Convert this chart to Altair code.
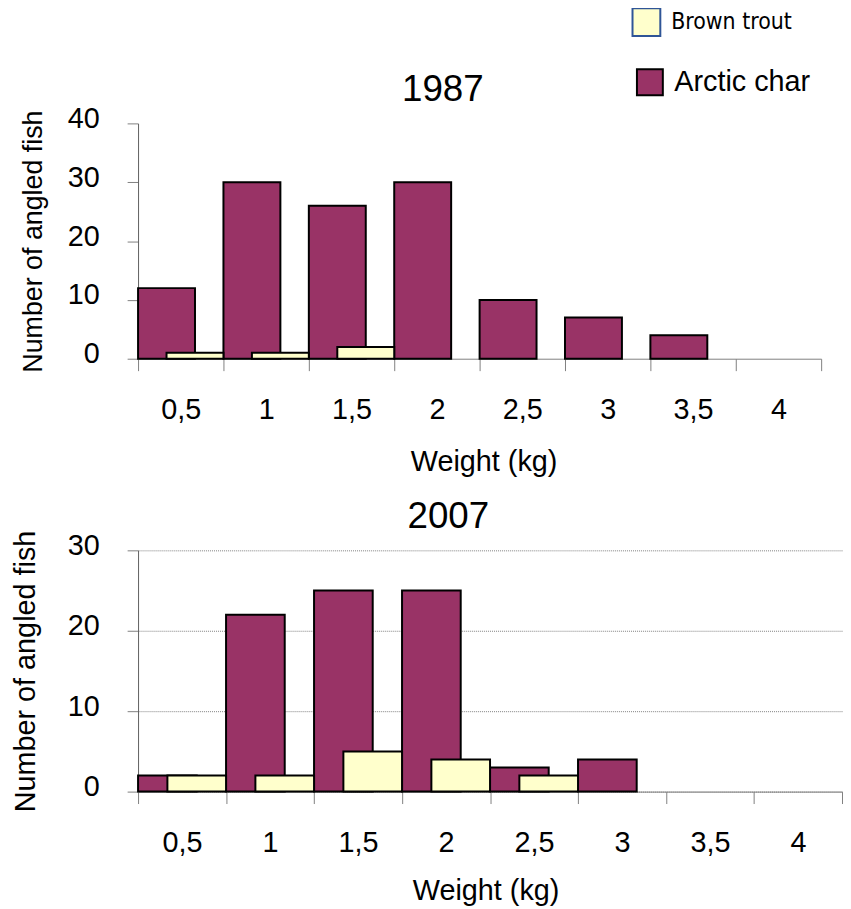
import altair as alt
import pandas as pd

weights = ["0,5", "1", "1,5", "2", "2,5", "3", "3,5", "4"]
char_1987 = [12, 30, 26, 30, 10, 7, 4, 0]
trout_1987 = [1, 1, 2, 0, 0, 0, 0, 0]
char_2007 = [2, 22, 25, 25, 3, 4, 0, 0]
trout_2007 = [2, 2, 5, 4, 2, 0, 0, 0]
y_ticks_1987 = [0, 10, 20, 30, 40]
y_ticks_2007 = [0, 10, 20, 30]

CHAR = "#993366"
TROUT = "#FFFFCC"
FONT = "Liberation Sans"


def frame(char_vals, trout_vals):
    rows = []
    for w, c, t in zip(weights, char_vals, trout_vals):
        rows.append({"weight": w, "count": c, "species": "Arctic char"})
        rows.append({"weight": w, "count": t, "species": "Brown trout"})
    return pd.DataFrame(rows)


char_legend = alt.Legend(
    orient="none", legendX=501, legendY=-56, title=None, padding=0,
    symbolType="square", symbolSize=680, symbolStrokeColor="black",
    symbolStrokeWidth=2, labelFont=FONT, labelFontSize=29, labelColor="black",
    labelOffset=10, labelBaseline="middle",
)
trout_legend = alt.Legend(
    orient="none", legendX=497, legendY=-117, title=None, padding=0,
    symbolType="square", symbolSize=784, symbolStrokeColor="#2F5597",
    symbolStrokeWidth=2, labelFont="DejaVu Sans Condensed", labelFontSize=23,
    labelColor="black", labelOffset=10, labelBaseline="middle",
)


def panel(df, title, dx, dy, width, height, ymax, yvals, grid,
          ytitle_size, ytitle_x, xtitle_x, xtitle_y):
    band = width / len(weights)
    x = alt.X(
        "weight:O", sort=weights,
        scale=alt.Scale(domain=weights, paddingInner=0, paddingOuter=0),
        axis=alt.Axis(
            title="Weight (kg)", titleFont=FONT, titleFontSize=29,
            titleFontWeight="normal", titleColor="black",
            titleX=xtitle_x, titleY=xtitle_y, titleBaseline="top",
            labelAngle=0, labelFont=FONT, labelFontSize=29, labelColor="black",
            labelPadding=25, tickSize=12, tickBand="extent",
            tickColor="#808080", domainColor="#808080", grid=False,
        ),
    )
    y = alt.Y(
        "count:Q",
        scale=alt.Scale(domain=[0, ymax], nice=False),
        axis=alt.Axis(
            values=yvals, title="Number of angled fish", titleFont=FONT,
            titleFontSize=ytitle_size, titleFontWeight="normal",
            titleColor="black", titleAngle=270, titleAlign="center",
            titleBaseline="alphabetic", titleX=ytitle_x, titleY=height / 2,
            labelFont=FONT, labelFontSize=29, labelColor="black",
            labelPadding=28, labelOffset=-5, tickSize=11,
            tickColor="#808080", domainColor="#606060",
            grid=grid, gridColor="#808080", gridDash=[1, 1], gridWidth=1,
        ),
    )
    base = alt.Chart(df).transform_filter(alt.datum.count > 0)
    char = base.transform_filter(alt.datum.species == "Arctic char").mark_bar(
        width=alt.RelativeBandSize(2 / 3), xOffset=-band / 6,
        stroke="black", strokeWidth=2,
    ).encode(
        x=x, y=y,
        fill=alt.Fill("species:N", scale=alt.Scale(domain=["Arctic char"], range=[CHAR]),
                      legend=char_legend),
    )
    trout = base.transform_filter(alt.datum.species == "Brown trout").mark_bar(
        width=alt.RelativeBandSize(2 / 3), xOffset=band / 6,
        stroke="black", strokeWidth=2,
    ).encode(
        x=x, y=y,
        color=alt.Color("species:N", scale=alt.Scale(domain=["Brown trout"], range=[TROUT]),
                        legend=trout_legend),
    )
    return alt.layer(char, trout).properties(
        width=width, height=height,
        title=alt.Title(title, font=FONT, fontSize=37, fontWeight="normal",
                        color="black", anchor="middle", baseline="alphabetic",
                        offset=20, dx=dx, dy=dy, frame="group"),
    )


top = panel(frame(char_1987, trout_1987), "1987", -37, 53, 688, 237, 40,
            y_ticks_1987, False, 27, -97, 348, 90)
bottom = panel(frame(char_2007, trout_2007), "2007", -42, 55, 709, 243, 30,
               y_ticks_2007, True, 29, -104, 350, 86)

chart = alt.vconcat(top, bottom, spacing=193, bounds="flush").properties(
    padding={"left": 4, "top": -4, "right": 0, "bottom": 0},
    background="white",
).configure_view(stroke=None)

chart.save("out.html", embed_options={"renderer": "svg", "actions": False})
